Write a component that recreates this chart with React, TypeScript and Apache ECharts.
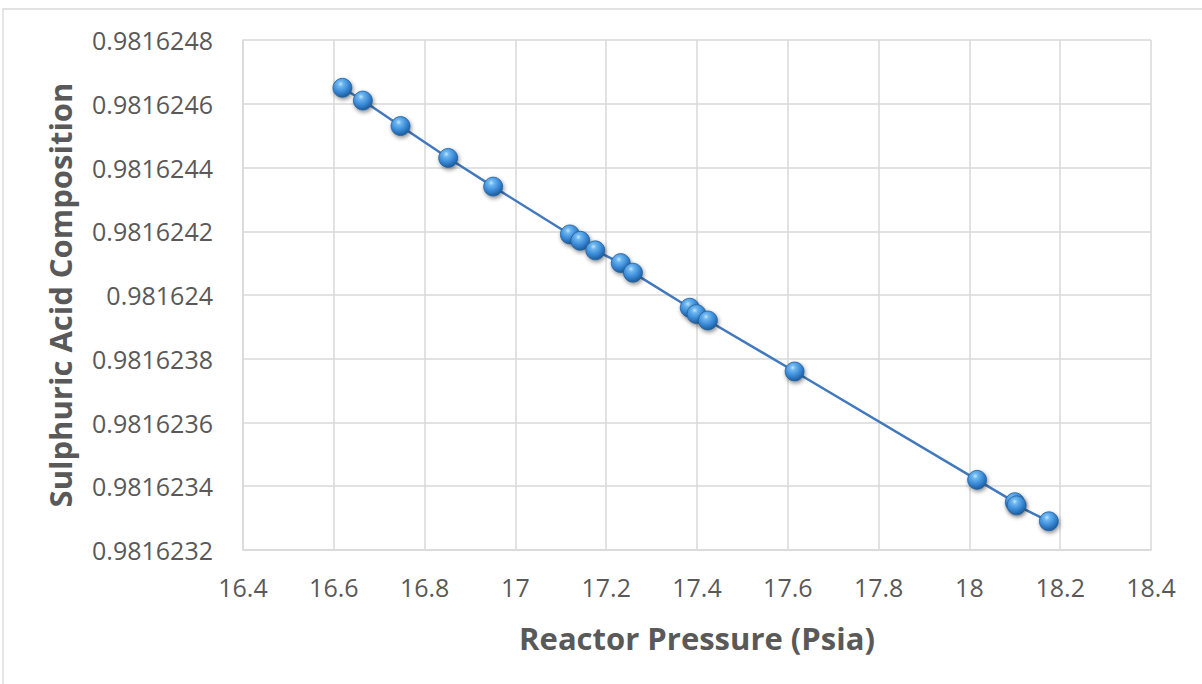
import React, { useEffect, useRef } from "react";
import * as echarts from "echarts";

const pressure = [16.619, 16.664, 16.747, 16.852, 16.951, 17.12, 17.143, 17.176, 17.232, 17.259, 17.384, 17.399, 17.424, 17.615, 18.017, 18.1, 18.104, 18.175];
const composition = [0.98162465, 0.98162461, 0.98162453, 0.98162443, 0.98162434, 0.98162419, 0.98162417, 0.98162414, 0.9816241, 0.98162407, 0.98162396, 0.98162394, 0.98162392, 0.98162376, 0.98162342, 0.98162335, 0.98162334, 0.98162329];
const xTitle = "Reactor Pressure (Psia)";
const yTitle = "Sulphuric Acid Composition";

export default function App() {
  const ref = useRef<HTMLDivElement>(null);
  useEffect(() => {
    if (!ref.current) return;
    const chart = echarts.init(ref.current, undefined, { renderer: "svg" });
    const font = "'Open Sans', 'Noto Sans', sans-serif";
    const data = pressure.map((p, i) => [p, composition[i]]);
    chart.setOption({
      animation: false,
      backgroundColor: "#ffffff",
      grid: { left: 243, right: 51, top: 40, bottom: 134 },
      graphic: [
        {
          type: "rect",
          shape: { x: 3, y: 9, width: 1400, height: 900 },
          style: { fill: "none", stroke: "#d9d9d9", lineWidth: 1.3 },
          silent: true,
          z: -1,
        },
      ],
      xAxis: {
        type: "value",
        min: 16.4,
        max: 18.4,
        interval: 0.2,
        name: xTitle,
        nameLocation: "middle",
        nameGap: 72,
        nameTextStyle: { fontFamily: font, fontSize: 31, fontWeight: "bold", color: "#595959" },
        axisLine: { show: true, lineStyle: { color: "#d9d9d9", width: 1.5 } },
        axisTick: { show: false },
        splitLine: { show: true, lineStyle: { color: "#d9d9d9", width: 1.5 } },
        axisLabel: {
          fontFamily: font,
          fontSize: 25,
          color: "#595959",
          margin: 24,
          formatter: (v: number) => String(parseFloat(v.toFixed(1))),
        },
      },
      yAxis: {
        type: "value",
        min: 0.9816232,
        max: 0.9816248,
        interval: 0.0000002,
        name: yTitle,
        nameLocation: "middle",
        nameGap: 168,
        nameRotate: 90,
        nameTextStyle: { fontFamily: font, fontSize: 31, fontWeight: "bold", color: "#595959" },
        axisLine: { show: true, lineStyle: { color: "#d9d9d9", width: 1.5 } },
        axisTick: { show: false },
        splitLine: { show: true, lineStyle: { color: "#d9d9d9", width: 1.5 } },
        axisLabel: {
          fontFamily: font,
          fontSize: 25,
          color: "#595959",
          margin: 30,
          formatter: (v: number) => String(parseFloat(v.toFixed(7))),
        },
      },
      series: [
        {
          type: "line",
          data,
          symbol: "circle",
          symbolSize: 19,
          lineStyle: { color: "#4279bd", width: 2.5 },
          itemStyle: {
            color: new echarts.graphic.RadialGradient(0.4, 0.3, 0.7, [
              { offset: 0, color: "#c4e6ff" },
              { offset: 0.2, color: "#6db6ef" },
              { offset: 0.6, color: "#3a8ad8" },
              { offset: 1, color: "#1d5c9b" },
            ]),
            borderColor: "#24609b",
            borderWidth: 0.8,
            shadowBlur: 4,
            shadowColor: "rgba(0,0,0,0.45)",
            shadowOffsetY: 2,
            shadowOffsetX: 1,
          },
          z: 3,
        },
      ],
    });
    return () => chart.dispose();
  }, []);
  return (
    <div
      ref={ref}
      style={{ position: "fixed", left: 0, top: 0, width: 1202, height: 684 }}
    />
  );
}
